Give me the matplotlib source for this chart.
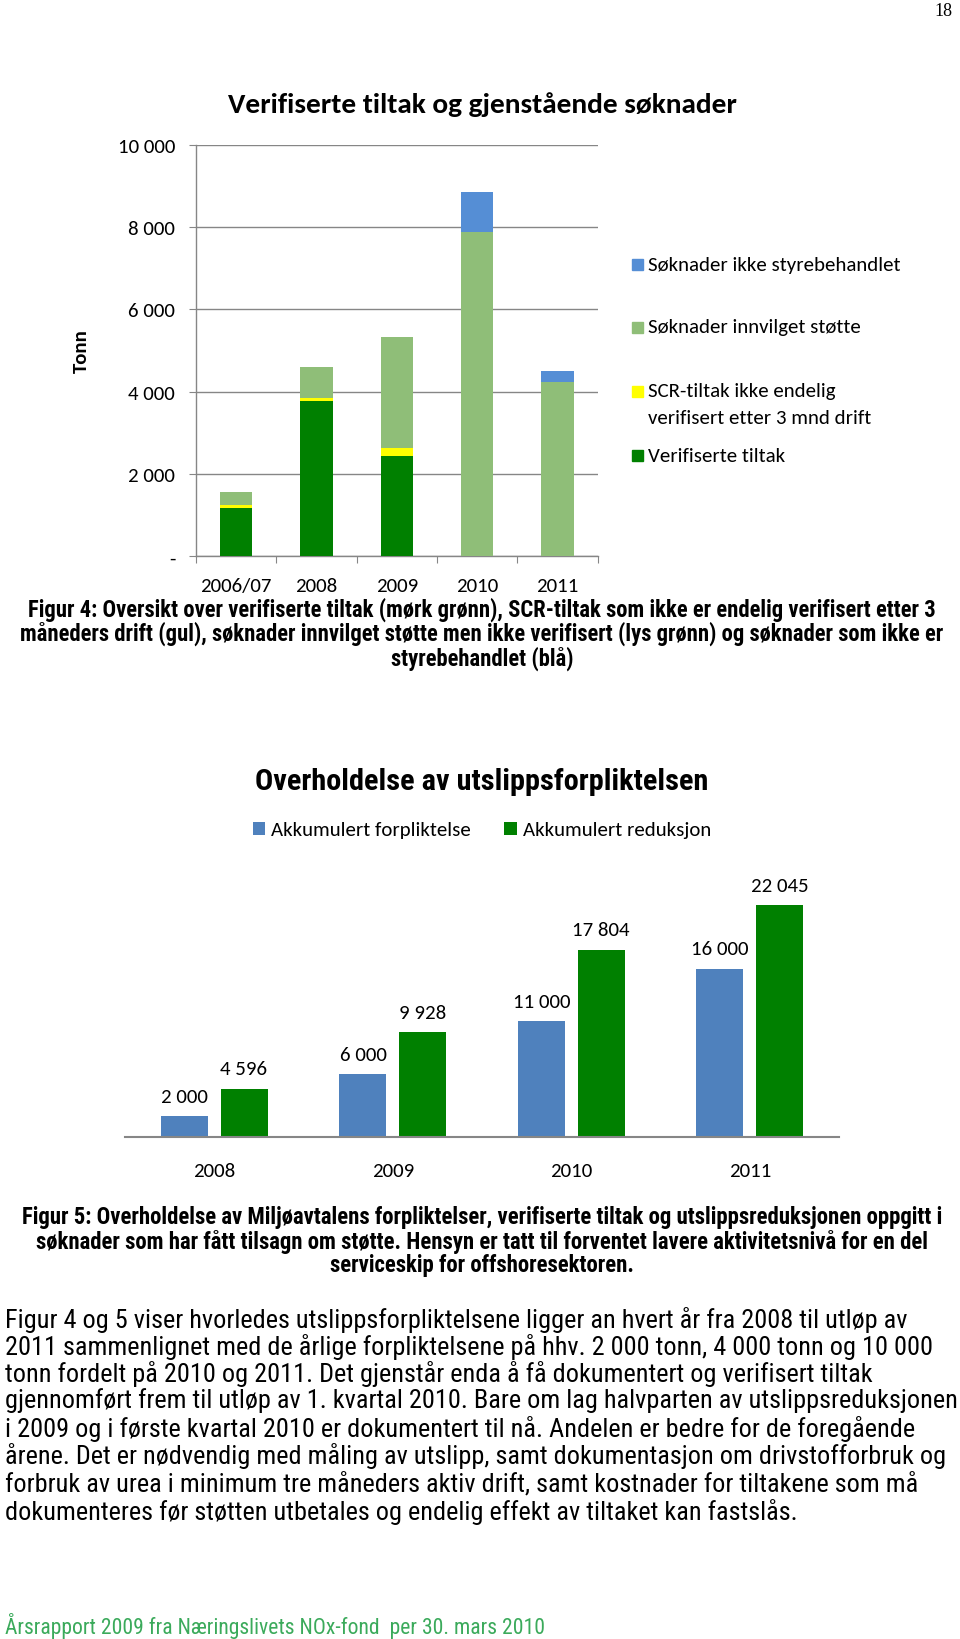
import matplotlib
matplotlib.use('Agg')
import matplotlib.pyplot as plt
import matplotlib.font_manager as fm
from matplotlib.patches import Rectangle
import numpy as np

# page size in pixels
W, H = 960, 1640

installed = {f.name for f in fm.fontManager.ttflist}


def pick(*names):
    for n in names:
        if n in installed:
            return n
    return 'DejaVu Sans'


CHART_FONT = pick('Carlito', 'Lato', 'Open Sans')
TEXT_FONT = pick('Liberation Sans Narrow', 'Roboto Condensed', 'Lato')
plt.rcParams['font.family'] = [CHART_FONT, 'DejaVu Sans']

# --- Figur 4 data ---
years1 = ['2006/07', '2008', '2009', '2010', '2011']
verifiserte = [1175, 3780, 2445, 0, 0]
scr_ikke_endelig = [80, 65, 185, 0, 0]
innvilget_stotte = [315, 755, 2705, 7870, 4245]
ikke_styrebehandlet = [0, 0, 0, 980, 250]
y1_ticks = [0, 2000, 4000, 6000, 8000, 10000]
y1_labels = ['-', '2 000', '4 000', '6 000', '8 000', '10 000']

# --- Figur 5 data ---
years2 = ['2008', '2009', '2010', '2011']
akk_forpliktelse = [2000, 6000, 11000, 16000]
akk_reduksjon = [4596, 9928, 17804, 22045]

C_DARK = '#008000'
C_YELLOW = '#FFFF00'
C_LIGHT = '#8FBE78'
C_BLUE1 = '#558ED5'
C_BLUE2 = '#4F81BD'
GRID = '#868686'
FS = 15  # chart text size

fig = plt.figure(figsize=(W / 100, H / 100), dpi=100)
renderer = fig.canvas.get_renderer()


def fy(y):
    return 1 - y / H


def fit_text(x, y, s, width_px, **kw):
    t = fig.text(x / W, fy(y), s, fontsize=10, **kw)
    w = t.get_window_extent(renderer).width
    size = 10 * width_px / w
    t.set_fontsize(size)
    return t, size


def box(x0, y0, x1, y1):
    return [x0 / W, fy(y1), (x1 - x0) / W, (y1 - y0) / H]


# ---------------- Figur 4 ----------------
ax1 = fig.add_axes(box(196, 145.7, 597.7, 557.3))
x1 = np.arange(len(years1))
bottom = np.zeros(len(years1))
for vals, col in [(verifiserte, C_DARK), (scr_ikke_endelig, C_YELLOW),
                  (innvilget_stotte, C_LIGHT), (ikke_styrebehandlet, C_BLUE1)]:
    ax1.bar(x1, vals, width=0.4, bottom=bottom, color=col, zorder=3)
    bottom += np.array(vals)

ax1.set_xlim(-0.5, len(years1) - 0.5)
ax1.set_ylim(0, 10000)
ax1.set_yticks(y1_ticks)
ax1.set_yticklabels(y1_labels)
# tick marks between categories, labels centred under the bars
ax1.set_xticks(np.arange(-0.5, len(years1)))
ax1.set_xticklabels([])
ax1.set_xticks(x1, minor=True)
ax1.set_xticklabels(years1, minor=True)
ax1.tick_params(axis='x', which='major', length=5, color=GRID, direction='out')
ax1.tick_params(axis='x', which='minor', length=0, pad=15, labelsize=FS)
ax1.tick_params(axis='y', length=5, color=GRID, pad=10, labelsize=FS)
ax1.grid(axis='y', color=GRID, linewidth=1, zorder=0)
for s in ['top', 'right']:
    ax1.spines[s].set_visible(False)
for s in ['left', 'bottom']:
    ax1.spines[s].set_color(GRID)
    ax1.spines[s].set_linewidth(1)
ax1.set_ylabel('Tonn', fontsize=FS, fontweight='bold', labelpad=20)

fit_text(482, 105, 'Verifiserte tiltak og gjenstående søknader', 510,
         ha='center', va='center', fontweight='bold')

# legend figur 4 (drawn by hand to keep the uneven spacing)
legend1 = [(C_BLUE1, ['Søknader ikke styrebehandlet'], 265),
           (C_LIGHT, ['Søknader innvilget støtte'], 328),
           (C_YELLOW, ['SCR-tiltak ikke endelig', 'verifisert etter 3 mnd drift'], 392),
           (C_DARK, ['Verifiserte tiltak'], 456)]
for col, lines, yy in legend1:
    fig.patches.append(Rectangle((632 / W, fy(yy + 6)), 11 / W, 11 / H,
                                 transform=fig.transFigure, color=col))
    for i, lab in enumerate(lines):
        fig.text(648 / W, fy(yy + 26 * i), lab, fontsize=FS, va='center')

# caption figur 4
cap4 = ['Figur 4: Oversikt over verifiserte tiltak (mørk grønn), SCR-tiltak som ikke er endelig verifisert etter 3',
        'måneders drift (gul), søknader innvilget støtte men ikke verifisert (lys grønn) og søknader som ikke er',
        'styrebehandlet (blå)']
_, size = fit_text(482, 610, cap4[0], 915, ha='center', va='center',
                   fontweight='bold', family=TEXT_FONT)
for line, yy in zip(cap4[1:], [634, 659]):
    fig.text(482 / W, fy(yy), line, fontsize=size, ha='center', va='center',
             fontweight='bold', family=TEXT_FONT)

# ---------------- Figur 5 ----------------
ax2 = fig.add_axes(box(125, 860, 839, 1138))
x2 = np.arange(len(years2))
fmt = lambda v: f'{v:,.0f}'.replace(',', ' ')
b1 = ax2.bar(x2 - 0.167, akk_forpliktelse, width=0.263, color=C_BLUE2,
             label='Akkumulert forpliktelse')
b2 = ax2.bar(x2 + 0.167, akk_reduksjon, width=0.263, color=C_DARK,
             label='Akkumulert reduksjon')
ax2.bar_label(b1, labels=[fmt(v) for v in akk_forpliktelse], padding=8, fontsize=FS)
ax2.bar_label(b2, labels=[fmt(v) for v in akk_reduksjon], padding=8, fontsize=FS)
ax2.set_xlim(-0.5, len(years2) - 0.5)
ax2.set_ylim(0, 26400)
ax2.set_xticks(x2)
ax2.set_xticklabels(years2)
ax2.set_yticks([])
ax2.tick_params(axis='x', length=0, pad=18, labelsize=FS)
for s in ['top', 'right', 'left']:
    ax2.spines[s].set_visible(False)
ax2.spines['bottom'].set_color(GRID)
ax2.spines['bottom'].set_linewidth(1.5)
ax2.legend(loc='center', bbox_to_anchor=(0.5, (fy(831) - fy(1138)) / (278 / H)),
           ncol=2, frameon=False, fontsize=FS, handlelength=0.6, handleheight=0.6,
           handletextpad=0.3, columnspacing=1.6)

fit_text(482, 782, 'Overholdelse av utslippsforpliktelsen', 452,
         ha='center', va='center', fontweight='bold', family=TEXT_FONT)

cap5 = ['Figur 5: Overholdelse av Miljøavtalens forpliktelser, verifiserte tiltak og utslippsreduksjonen oppgitt i',
        'søknader som har fått tilsagn om støtte. Hensyn er tatt til forventet lavere aktivitetsnivå for en del',
        'serviceskip for offshoresektoren.']
_, size = fit_text(482, 1218, cap5[0], 925, ha='center', va='center',
                   fontweight='bold', family=TEXT_FONT)
for line, yy in zip(cap5[1:], [1242, 1266]):
    fig.text(482 / W, fy(yy), line, fontsize=size, ha='center', va='center',
             fontweight='bold', family=TEXT_FONT)

# ---------------- body text ----------------
body = ['Figur 4 og 5 viser hvorledes utslippsforpliktelsene ligger an hvert år fra 2008 til utløp av',
        '2011 sammenlignet med de årlige forpliktelsene på hhv. 2 000 tonn, 4 000 tonn og 10 000',
        'tonn fordelt på 2010 og 2011. Det gjenstår enda å få dokumentert og verifisert tiltak',
        'gjennomført frem til utløp av 1. kvartal 2010. Bare om lag halvparten av utslippsreduksjonen',
        'i 2009 og i første kvartal 2010 er dokumentert til nå. Andelen er bedre for de foregående',
        'årene. Det er nødvendig med måling av utslipp, samt dokumentasjon om drivstofforbruk og',
        'forbruk av urea i minimum tre måneders aktiv drift, samt kostnader for tiltakene som må',
        'dokumenteres før støtten utbetales og endelig effekt av tiltaket kan fastslås.']
body_y = [1320, 1347, 1374, 1401, 1429, 1456, 1484, 1512]
# fit on the longest line
t, size = fit_text(5, body_y[3], body[3], 945, va='center', family=TEXT_FONT)
for line, yy in zip(body, body_y):
    if line != body[3]:
        fig.text(5 / W, fy(yy), line, fontsize=size, va='center', family=TEXT_FONT)

fit_text(5, 1626, 'Årsrapport 2009 fra Næringslivets NOx-fond  per 30. mars 2010', 537,
         va='center', color='#3BAA5B', family=TEXT_FONT)

fig.text(952 / W, fy(12), '18', fontsize=13, ha='right', va='center',
         family=pick('Liberation Serif', 'DejaVu Serif'))

fig.savefig('out.png', dpi=100)
